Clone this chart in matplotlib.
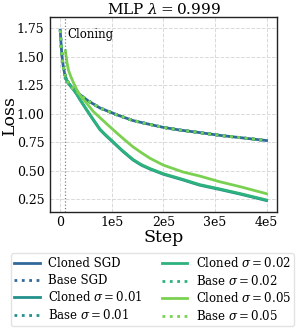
import numpy as np
import matplotlib.pyplot as plt

# values (step, loss)
steps_base = [0, 2000, 4000, 6000, 9000, 13000, 20000, 30000, 40000, 55000,
              77000, 110000, 141000, 170000, 200000, 235000, 270000, 310000, 350000, 400000]
loss_plateau = [1.73, 1.58, 1.48, 1.41, 1.34, 1.29, 1.24, 1.20, 1.16, 1.11,
                1.05, 0.99, 0.94, 0.91, 0.88, 0.855, 0.835, 0.81, 0.79, 0.765]

steps_clone = [10000, 15000, 20000, 25700, 32000, 38600, 45000, 51500, 64000, 77000,
               88000, 100000, 120000, 141000, 157000, 174000, 200000, 238000, 270000,
               309000, 350000, 400000]
loss_clone_001 = [1.31, 1.27, 1.245, 1.21, 1.17, 1.12, 1.075, 1.03, 0.945, 0.86,
                  0.81, 0.76, 0.675, 0.595, 0.55, 0.515, 0.47, 0.42, 0.375,
                  0.337, 0.295, 0.24]
loss_clone_002 = [1.31, 1.27, 1.245, 1.21, 1.17, 1.122, 1.078, 1.033, 0.95, 0.865,
                  0.815, 0.765, 0.68, 0.60, 0.555, 0.52, 0.475, 0.425, 0.38,
                  0.342, 0.30, 0.245]
steps_c005 = [10000, 13000, 16000, 20000, 25700, 32000, 38600, 51500, 64000, 77000,
              100000, 120000, 141000, 157000, 174000, 200000, 238000, 270000,
              309000, 350000, 400000]
loss_clone_005 = [1.55, 1.45, 1.38, 1.33, 1.27, 1.21, 1.16, 1.09, 1.02, 0.965,
                  0.87, 0.79, 0.71, 0.66, 0.61, 0.55, 0.49, 0.455,
                  0.405, 0.36, 0.30]

cloning_step = 10000
xticks = [0, 100000, 200000, 300000, 400000]
xtick_labels = ['0', '1e5', '2e5', '3e5', '4e5']
yticks = [0.25, 0.50, 0.75, 1.00, 1.25, 1.50, 1.75]

c_sgd = '#33699a'
c_001 = '#22908c'
c_002 = '#2db27d'
c_005 = '#7ad151'

plt.rcParams['font.family'] = 'DejaVu Serif'
plt.rcParams['mathtext.fontset'] = 'dejavuserif'

fig = plt.figure(figsize=(2.99, 3.33), dpi=100)
ax = fig.add_axes([0.167, 0.363, 0.759, 0.586])

lw = 2.0
ax.plot(steps_base, loss_plateau, color=c_sgd, lw=lw, label='Cloned SGD')
ax.plot(steps_base, loss_plateau, color=c_sgd, lw=lw, ls=':', label='Base SGD')
ax.plot(steps_clone, loss_clone_001, color=c_001, lw=lw, label=r'Cloned $\sigma=0.01$')
ax.plot(steps_base, loss_plateau, color=c_001, lw=lw, ls=':', label=r'Base $\sigma=0.01$')
ax.plot(steps_clone, loss_clone_002, color=c_002, lw=lw, label=r'Cloned $\sigma=0.02$')
ax.plot(steps_base, loss_plateau, color=c_002, lw=lw, ls=':', label=r'Base $\sigma=0.02$')
ax.plot(steps_c005, loss_clone_005, color=c_005, lw=lw, label=r'Cloned $\sigma=0.05$')
ax.plot(steps_base, loss_plateau, color=c_005, lw=lw, ls=':', label=r'Base $\sigma=0.05$')

ax.axvline(cloning_step, color='gray', ls=':', lw=0.9)
ax.text(cloning_step + 4000, 1.69, 'Cloning', fontsize=8.5, va='center', ha='left')

ax.set_xticks(xticks)
ax.set_xticklabels(xtick_labels)
ax.set_yticks(yticks)
ax.set_yticklabels([f'{v:.2f}' for v in yticks])
ax.set_ylim(0.139, 1.846)
ax.tick_params(axis='y', labelsize=9, length=0, pad=4)
ax.tick_params(axis='x', labelsize=9, length=0, pad=2.5)
ax.grid(True, ls='--', color='#d9d9d9', lw=0.7)
for s in ax.spines.values():
    s.set_color('#222222')
    s.set_linewidth(1.0)

ax.set_title(r'MLP $\lambda = 0.999$', fontsize=11, pad=1.5)
ax.set_xlabel('Step', fontsize=12.5)
ax.set_ylabel('Loss', fontsize=12.5)
ax.yaxis.set_label_coords(-0.14, 0.5)
ax.xaxis.set_label_coords(0.5, -0.085)

fig.legend(loc='lower center', bbox_to_anchor=(0.51, 0.014), ncol=2, fontsize=8.5,
           frameon=True, fancybox=True, edgecolor='#dddddd', handlelength=2.2,
           handletextpad=0.7, columnspacing=1.6, labelspacing=0.3, borderpad=0.25,
           borderaxespad=0.2)

fig.savefig('out.png', dpi=100)
